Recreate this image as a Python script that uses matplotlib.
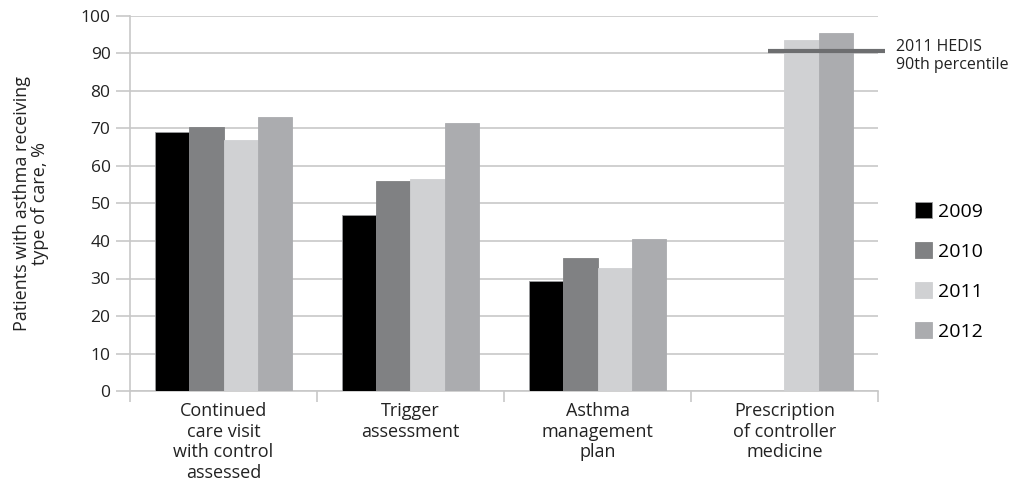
import matplotlib
matplotlib.use("Agg")
import matplotlib.pyplot as plt
import numpy as np

plt.rcParams['font.family'] = ['Open Sans', 'DejaVu Sans']

categories = [
    "Continued\ncare visit\nwith control\nassessed",
    "Trigger\nassessment",
    "Asthma\nmanagement\nplan",
    "Prescription\nof controller\nmedicine",
]
years = ["2009", "2010", "2011", "2012"]
values = {
    "2009": [69.1, 46.9, 29.3, None],
    "2010": [70.5, 56.0, 35.4, None],
    "2011": [66.8, 56.4, 32.9, 93.6],
    "2012": [73.0, 71.5, 40.6, 95.5],
}
colors = {"2009": "#000000", "2010": "#808183", "2011": "#d0d1d3", "2012": "#abacaf"}
hedis_value = 90.7
hedis_label = "2011 HEDIS\n90th percentile"

fig = plt.figure(figsize=(10.12, 4.87), dpi=100)
ax = fig.add_axes([130 / 1012, 1 - 391 / 487, 748 / 1012, 375 / 487])

n = len(years)
width = 0.183
x = np.arange(len(categories))
for i, yr in enumerate(years):
    offs = (i - (n - 1) / 2) * width
    vals = [np.nan if v is None else v for v in values[yr]]
    ax.bar(x + offs, vals, width, color=colors[yr], label=yr, zorder=3,
           edgecolor="#9a9b9d" if yr == "2009" else colors[yr], linewidth=0.6)

# HEDIS benchmark over the last group
ax.plot([x[3] - 0.088, x[3] + 0.537], [hedis_value, hedis_value], color="#6d6e70",
        linewidth=3, zorder=4, clip_on=False, solid_capstyle="butt")
ax.text(x[3] + 0.596, hedis_value - 1.4, hedis_label, fontsize=11.5, va="center", ha="left",
        linespacing=1.2, color="#222222")

ax.set_xlim(-0.5, len(categories) - 0.5)
ax.set_ylim(0, 100)
ax.set_yticks(np.arange(0, 101, 10))
ax.yaxis.grid(True, color="#c8c8c8", linewidth=1.2, zorder=0)
ax.set_axisbelow(True)
ax.tick_params(axis="y", length=10, color="#c8c8c8", width=1.2, labelsize=12.5, pad=4,
               labelcolor="#222222")

# Category labels centered under groups, separators at group boundaries
ax.set_xticks(np.arange(-0.5, len(categories) + 0.5, 1.0))
ax.set_xticklabels([])
ax.tick_params(axis="x", length=8, color="#c8c8c8", width=1.2)
for xi, lab in zip(x, categories):
    ax.text(xi, -3.0, lab, ha="center", va="top", fontsize=13, linespacing=1.18,
            color="#222222")

for s in ["top", "right"]:
    ax.spines[s].set_visible(False)
for s in ["left", "bottom"]:
    ax.spines[s].set_color("#c8c8c8")
    ax.spines[s].set_linewidth(1.2)

ax.set_ylabel("Patients with asthma receiving\ntype of care, %", fontsize=13,
              color="#222222", linespacing=1.05)
ax.yaxis.set_label_coords(-0.108, 0.5)

leg = fig.legend(loc="upper left", bbox_to_anchor=(898 / 1012, 1 - 185 / 487), frameon=False,
                 fontsize=14, handlelength=0.85, handleheight=0.85, handletextpad=0.3,
                 labelspacing=1.1)

fig.savefig("out.png", dpi=100)
